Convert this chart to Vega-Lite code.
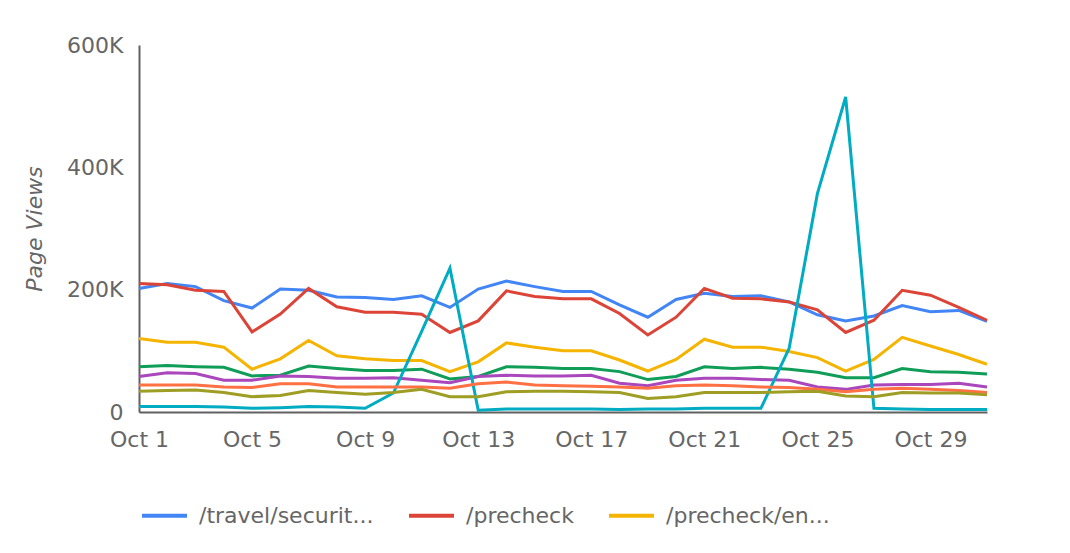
{
  "$schema": "https://vega.github.io/schema/vega-lite/v6.json",
  "width": 848,
  "height": 367,
  "autosize": "none",
  "padding": {"left": 139, "top": 45, "right": 83, "bottom": 141},
  "background": "white",
  "data": {"values": [
    {"date":"2023-10-01","page":"/travel/securit...","views":202000},
    {"date":"2023-10-02","page":"/travel/securit...","views":210000},
    {"date":"2023-10-03","page":"/travel/securit...","views":205000},
    {"date":"2023-10-04","page":"/travel/securit...","views":182000},
    {"date":"2023-10-05","page":"/travel/securit...","views":170000},
    {"date":"2023-10-06","page":"/travel/securit...","views":201000},
    {"date":"2023-10-07","page":"/travel/securit...","views":199000},
    {"date":"2023-10-08","page":"/travel/securit...","views":188000},
    {"date":"2023-10-09","page":"/travel/securit...","views":187000},
    {"date":"2023-10-10","page":"/travel/securit...","views":184000},
    {"date":"2023-10-11","page":"/travel/securit...","views":190000},
    {"date":"2023-10-12","page":"/travel/securit...","views":171000},
    {"date":"2023-10-13","page":"/travel/securit...","views":201000},
    {"date":"2023-10-14","page":"/travel/securit...","views":214000},
    {"date":"2023-10-15","page":"/travel/securit...","views":205000},
    {"date":"2023-10-16","page":"/travel/securit...","views":197000},
    {"date":"2023-10-17","page":"/travel/securit...","views":197000},
    {"date":"2023-10-18","page":"/travel/securit...","views":175000},
    {"date":"2023-10-19","page":"/travel/securit...","views":155000},
    {"date":"2023-10-20","page":"/travel/securit...","views":184000},
    {"date":"2023-10-21","page":"/travel/securit...","views":194000},
    {"date":"2023-10-22","page":"/travel/securit...","views":189000},
    {"date":"2023-10-23","page":"/travel/securit...","views":190000},
    {"date":"2023-10-24","page":"/travel/securit...","views":180000},
    {"date":"2023-10-25","page":"/travel/securit...","views":159000},
    {"date":"2023-10-26","page":"/travel/securit...","views":149000},
    {"date":"2023-10-27","page":"/travel/securit...","views":157000},
    {"date":"2023-10-28","page":"/travel/securit...","views":174000},
    {"date":"2023-10-29","page":"/travel/securit...","views":164000},
    {"date":"2023-10-30","page":"/travel/securit...","views":166000},
    {"date":"2023-10-31","page":"/travel/securit...","views":148000},
    {"date":"2023-10-01","page":"/precheck","views":210000},
    {"date":"2023-10-02","page":"/precheck","views":208000},
    {"date":"2023-10-03","page":"/precheck","views":199000},
    {"date":"2023-10-04","page":"/precheck","views":197000},
    {"date":"2023-10-05","page":"/precheck","views":131000},
    {"date":"2023-10-06","page":"/precheck","views":160000},
    {"date":"2023-10-07","page":"/precheck","views":202000},
    {"date":"2023-10-08","page":"/precheck","views":172000},
    {"date":"2023-10-09","page":"/precheck","views":163000},
    {"date":"2023-10-10","page":"/precheck","views":163000},
    {"date":"2023-10-11","page":"/precheck","views":160000},
    {"date":"2023-10-12","page":"/precheck","views":130000},
    {"date":"2023-10-13","page":"/precheck","views":149000},
    {"date":"2023-10-14","page":"/precheck","views":198000},
    {"date":"2023-10-15","page":"/precheck","views":189000},
    {"date":"2023-10-16","page":"/precheck","views":185000},
    {"date":"2023-10-17","page":"/precheck","views":185000},
    {"date":"2023-10-18","page":"/precheck","views":161000},
    {"date":"2023-10-19","page":"/precheck","views":126000},
    {"date":"2023-10-20","page":"/precheck","views":155000},
    {"date":"2023-10-21","page":"/precheck","views":202000},
    {"date":"2023-10-22","page":"/precheck","views":186000},
    {"date":"2023-10-23","page":"/precheck","views":185000},
    {"date":"2023-10-24","page":"/precheck","views":180000},
    {"date":"2023-10-25","page":"/precheck","views":167000},
    {"date":"2023-10-26","page":"/precheck","views":130000},
    {"date":"2023-10-27","page":"/precheck","views":150000},
    {"date":"2023-10-28","page":"/precheck","views":199000},
    {"date":"2023-10-29","page":"/precheck","views":191000},
    {"date":"2023-10-30","page":"/precheck","views":171000},
    {"date":"2023-10-31","page":"/precheck","views":150000},
    {"date":"2023-10-01","page":"/precheck/en...","views":120000},
    {"date":"2023-10-02","page":"/precheck/en...","views":114000},
    {"date":"2023-10-03","page":"/precheck/en...","views":114000},
    {"date":"2023-10-04","page":"/precheck/en...","views":106000},
    {"date":"2023-10-05","page":"/precheck/en...","views":70000},
    {"date":"2023-10-06","page":"/precheck/en...","views":87000},
    {"date":"2023-10-07","page":"/precheck/en...","views":117000},
    {"date":"2023-10-08","page":"/precheck/en...","views":92000},
    {"date":"2023-10-09","page":"/precheck/en...","views":87000},
    {"date":"2023-10-10","page":"/precheck/en...","views":84000},
    {"date":"2023-10-11","page":"/precheck/en...","views":84000},
    {"date":"2023-10-12","page":"/precheck/en...","views":66000},
    {"date":"2023-10-13","page":"/precheck/en...","views":82000},
    {"date":"2023-10-14","page":"/precheck/en...","views":113000},
    {"date":"2023-10-15","page":"/precheck/en...","views":106000},
    {"date":"2023-10-16","page":"/precheck/en...","views":100000},
    {"date":"2023-10-17","page":"/precheck/en...","views":100000},
    {"date":"2023-10-18","page":"/precheck/en...","views":85000},
    {"date":"2023-10-19","page":"/precheck/en...","views":67000},
    {"date":"2023-10-20","page":"/precheck/en...","views":86000},
    {"date":"2023-10-21","page":"/precheck/en...","views":119000},
    {"date":"2023-10-22","page":"/precheck/en...","views":106000},
    {"date":"2023-10-23","page":"/precheck/en...","views":106000},
    {"date":"2023-10-24","page":"/precheck/en...","views":99000},
    {"date":"2023-10-25","page":"/precheck/en...","views":89000},
    {"date":"2023-10-26","page":"/precheck/en...","views":67000},
    {"date":"2023-10-27","page":"/precheck/en...","views":86000},
    {"date":"2023-10-28","page":"/precheck/en...","views":122000},
    {"date":"2023-10-29","page":"/precheck/en...","views":108000},
    {"date":"2023-10-30","page":"/precheck/en...","views":94000},
    {"date":"2023-10-31","page":"/precheck/en...","views":78000},
    {"date":"2023-10-01","page":"/travel/security-screening/whatcanibring/all","views":74000},
    {"date":"2023-10-02","page":"/travel/security-screening/whatcanibring/all","views":76000},
    {"date":"2023-10-03","page":"/travel/security-screening/whatcanibring/all","views":74000},
    {"date":"2023-10-04","page":"/travel/security-screening/whatcanibring/all","views":73000},
    {"date":"2023-10-05","page":"/travel/security-screening/whatcanibring/all","views":59000},
    {"date":"2023-10-06","page":"/travel/security-screening/whatcanibring/all","views":60000},
    {"date":"2023-10-07","page":"/travel/security-screening/whatcanibring/all","views":75000},
    {"date":"2023-10-08","page":"/travel/security-screening/whatcanibring/all","views":71000},
    {"date":"2023-10-09","page":"/travel/security-screening/whatcanibring/all","views":68000},
    {"date":"2023-10-10","page":"/travel/security-screening/whatcanibring/all","views":68000},
    {"date":"2023-10-11","page":"/travel/security-screening/whatcanibring/all","views":70000},
    {"date":"2023-10-12","page":"/travel/security-screening/whatcanibring/all","views":54000},
    {"date":"2023-10-13","page":"/travel/security-screening/whatcanibring/all","views":58000},
    {"date":"2023-10-14","page":"/travel/security-screening/whatcanibring/all","views":74000},
    {"date":"2023-10-15","page":"/travel/security-screening/whatcanibring/all","views":73000},
    {"date":"2023-10-16","page":"/travel/security-screening/whatcanibring/all","views":71000},
    {"date":"2023-10-17","page":"/travel/security-screening/whatcanibring/all","views":71000},
    {"date":"2023-10-18","page":"/travel/security-screening/whatcanibring/all","views":66000},
    {"date":"2023-10-19","page":"/travel/security-screening/whatcanibring/all","views":53000},
    {"date":"2023-10-20","page":"/travel/security-screening/whatcanibring/all","views":58000},
    {"date":"2023-10-21","page":"/travel/security-screening/whatcanibring/all","views":74000},
    {"date":"2023-10-22","page":"/travel/security-screening/whatcanibring/all","views":71000},
    {"date":"2023-10-23","page":"/travel/security-screening/whatcanibring/all","views":73000},
    {"date":"2023-10-24","page":"/travel/security-screening/whatcanibring/all","views":70000},
    {"date":"2023-10-25","page":"/travel/security-screening/whatcanibring/all","views":65000},
    {"date":"2023-10-26","page":"/travel/security-screening/whatcanibring/all","views":56000},
    {"date":"2023-10-27","page":"/travel/security-screening/whatcanibring/all","views":56000},
    {"date":"2023-10-28","page":"/travel/security-screening/whatcanibring/all","views":71000},
    {"date":"2023-10-29","page":"/travel/security-screening/whatcanibring/all","views":66000},
    {"date":"2023-10-30","page":"/travel/security-screening/whatcanibring/all","views":65000},
    {"date":"2023-10-31","page":"/travel/security-screening/whatcanibring/all","views":62000},
    {"date":"2023-10-01","page":"/travel/passenger-support","views":58000},
    {"date":"2023-10-02","page":"/travel/passenger-support","views":64000},
    {"date":"2023-10-03","page":"/travel/passenger-support","views":63000},
    {"date":"2023-10-04","page":"/travel/passenger-support","views":52000},
    {"date":"2023-10-05","page":"/travel/passenger-support","views":52000},
    {"date":"2023-10-06","page":"/travel/passenger-support","views":59000},
    {"date":"2023-10-07","page":"/travel/passenger-support","views":58000},
    {"date":"2023-10-08","page":"/travel/passenger-support","views":55000},
    {"date":"2023-10-09","page":"/travel/passenger-support","views":55000},
    {"date":"2023-10-10","page":"/travel/passenger-support","views":56000},
    {"date":"2023-10-11","page":"/travel/passenger-support","views":52000},
    {"date":"2023-10-12","page":"/travel/passenger-support","views":48000},
    {"date":"2023-10-13","page":"/travel/passenger-support","views":58000},
    {"date":"2023-10-14","page":"/travel/passenger-support","views":60000},
    {"date":"2023-10-15","page":"/travel/passenger-support","views":59000},
    {"date":"2023-10-16","page":"/travel/passenger-support","views":59000},
    {"date":"2023-10-17","page":"/travel/passenger-support","views":60000},
    {"date":"2023-10-18","page":"/travel/passenger-support","views":47000},
    {"date":"2023-10-19","page":"/travel/passenger-support","views":43000},
    {"date":"2023-10-20","page":"/travel/passenger-support","views":52000},
    {"date":"2023-10-21","page":"/travel/passenger-support","views":55000},
    {"date":"2023-10-22","page":"/travel/passenger-support","views":55000},
    {"date":"2023-10-23","page":"/travel/passenger-support","views":53000},
    {"date":"2023-10-24","page":"/travel/passenger-support","views":52000},
    {"date":"2023-10-25","page":"/travel/passenger-support","views":41000},
    {"date":"2023-10-26","page":"/travel/passenger-support","views":37000},
    {"date":"2023-10-27","page":"/travel/passenger-support","views":44000},
    {"date":"2023-10-28","page":"/travel/passenger-support","views":45000},
    {"date":"2023-10-29","page":"/travel/passenger-support","views":45000},
    {"date":"2023-10-30","page":"/travel/passenger-support","views":47000},
    {"date":"2023-10-31","page":"/travel/passenger-support","views":41000},
    {"date":"2023-10-01","page":"/travel/tsa-cares","views":9000},
    {"date":"2023-10-02","page":"/travel/tsa-cares","views":9000},
    {"date":"2023-10-03","page":"/travel/tsa-cares","views":9000},
    {"date":"2023-10-04","page":"/travel/tsa-cares","views":8000},
    {"date":"2023-10-05","page":"/travel/tsa-cares","views":6000},
    {"date":"2023-10-06","page":"/travel/tsa-cares","views":7000},
    {"date":"2023-10-07","page":"/travel/tsa-cares","views":9000},
    {"date":"2023-10-08","page":"/travel/tsa-cares","views":8000},
    {"date":"2023-10-09","page":"/travel/tsa-cares","views":6000},
    {"date":"2023-10-10","page":"/travel/tsa-cares","views":31000},
    {"date":"2023-10-11","page":"/travel/tsa-cares","views":132000},
    {"date":"2023-10-12","page":"/travel/tsa-cares","views":235000},
    {"date":"2023-10-13","page":"/travel/tsa-cares","views":3000},
    {"date":"2023-10-14","page":"/travel/tsa-cares","views":5000},
    {"date":"2023-10-15","page":"/travel/tsa-cares","views":5000},
    {"date":"2023-10-16","page":"/travel/tsa-cares","views":5000},
    {"date":"2023-10-17","page":"/travel/tsa-cares","views":5000},
    {"date":"2023-10-18","page":"/travel/tsa-cares","views":4000},
    {"date":"2023-10-19","page":"/travel/tsa-cares","views":5000},
    {"date":"2023-10-20","page":"/travel/tsa-cares","views":5000},
    {"date":"2023-10-21","page":"/travel/tsa-cares","views":6000},
    {"date":"2023-10-22","page":"/travel/tsa-cares","views":6000},
    {"date":"2023-10-23","page":"/travel/tsa-cares","views":6000},
    {"date":"2023-10-24","page":"/travel/tsa-cares","views":104000},
    {"date":"2023-10-25","page":"/travel/tsa-cares","views":357000},
    {"date":"2023-10-26","page":"/travel/tsa-cares","views":515000},
    {"date":"2023-10-27","page":"/travel/tsa-cares","views":6000},
    {"date":"2023-10-28","page":"/travel/tsa-cares","views":5000},
    {"date":"2023-10-29","page":"/travel/tsa-cares","views":4000},
    {"date":"2023-10-30","page":"/travel/tsa-cares","views":4000},
    {"date":"2023-10-31","page":"/travel/tsa-cares","views":4000},
    {"date":"2023-10-01","page":"/contact-center","views":44000},
    {"date":"2023-10-02","page":"/contact-center","views":44000},
    {"date":"2023-10-03","page":"/contact-center","views":44000},
    {"date":"2023-10-04","page":"/contact-center","views":41000},
    {"date":"2023-10-05","page":"/contact-center","views":40000},
    {"date":"2023-10-06","page":"/contact-center","views":46000},
    {"date":"2023-10-07","page":"/contact-center","views":46000},
    {"date":"2023-10-08","page":"/contact-center","views":41000},
    {"date":"2023-10-09","page":"/contact-center","views":41000},
    {"date":"2023-10-10","page":"/contact-center","views":41000},
    {"date":"2023-10-11","page":"/contact-center","views":41000},
    {"date":"2023-10-12","page":"/contact-center","views":39000},
    {"date":"2023-10-13","page":"/contact-center","views":46000},
    {"date":"2023-10-14","page":"/contact-center","views":49000},
    {"date":"2023-10-15","page":"/contact-center","views":44000},
    {"date":"2023-10-16","page":"/contact-center","views":43000},
    {"date":"2023-10-17","page":"/contact-center","views":42000},
    {"date":"2023-10-18","page":"/contact-center","views":41000},
    {"date":"2023-10-19","page":"/contact-center","views":39000},
    {"date":"2023-10-20","page":"/contact-center","views":43000},
    {"date":"2023-10-21","page":"/contact-center","views":44000},
    {"date":"2023-10-22","page":"/contact-center","views":43000},
    {"date":"2023-10-23","page":"/contact-center","views":41000},
    {"date":"2023-10-24","page":"/contact-center","views":40000},
    {"date":"2023-10-25","page":"/contact-center","views":37000},
    {"date":"2023-10-26","page":"/contact-center","views":33000},
    {"date":"2023-10-27","page":"/contact-center","views":37000},
    {"date":"2023-10-28","page":"/contact-center","views":39000},
    {"date":"2023-10-29","page":"/contact-center","views":37000},
    {"date":"2023-10-30","page":"/contact-center","views":35000},
    {"date":"2023-10-31","page":"/contact-center","views":32000},
    {"date":"2023-10-01","page":"/coronavirus","views":34000},
    {"date":"2023-10-02","page":"/coronavirus","views":35000},
    {"date":"2023-10-03","page":"/coronavirus","views":36000},
    {"date":"2023-10-04","page":"/coronavirus","views":32000},
    {"date":"2023-10-05","page":"/coronavirus","views":25000},
    {"date":"2023-10-06","page":"/coronavirus","views":27000},
    {"date":"2023-10-07","page":"/coronavirus","views":35000},
    {"date":"2023-10-08","page":"/coronavirus","views":32000},
    {"date":"2023-10-09","page":"/coronavirus","views":29000},
    {"date":"2023-10-10","page":"/coronavirus","views":32000},
    {"date":"2023-10-11","page":"/coronavirus","views":37000},
    {"date":"2023-10-12","page":"/coronavirus","views":25000},
    {"date":"2023-10-13","page":"/coronavirus","views":25000},
    {"date":"2023-10-14","page":"/coronavirus","views":33000},
    {"date":"2023-10-15","page":"/coronavirus","views":34000},
    {"date":"2023-10-16","page":"/coronavirus","views":34000},
    {"date":"2023-10-17","page":"/coronavirus","views":33000},
    {"date":"2023-10-18","page":"/coronavirus","views":32000},
    {"date":"2023-10-19","page":"/coronavirus","views":22000},
    {"date":"2023-10-20","page":"/coronavirus","views":25000},
    {"date":"2023-10-21","page":"/coronavirus","views":32000},
    {"date":"2023-10-22","page":"/coronavirus","views":32000},
    {"date":"2023-10-23","page":"/coronavirus","views":32000},
    {"date":"2023-10-24","page":"/coronavirus","views":33000},
    {"date":"2023-10-25","page":"/coronavirus","views":34000},
    {"date":"2023-10-26","page":"/coronavirus","views":26000},
    {"date":"2023-10-27","page":"/coronavirus","views":25000},
    {"date":"2023-10-28","page":"/coronavirus","views":32000},
    {"date":"2023-10-29","page":"/coronavirus","views":31000},
    {"date":"2023-10-30","page":"/coronavirus","views":31000},
    {"date":"2023-10-31","page":"/coronavirus","views":28000}
  ]},
  "mark": {"type": "line", "strokeWidth": 3, "strokeJoin": "miter", "strokeCap": "butt"},
  "encoding": {
    "x": {
      "field": "date", "type": "temporal",
      "scale": {"type": "utc", "nice": false,
        "domain": [{"year": 2023, "month": 10, "date": 1, "utc": true}, {"year": 2023, "month": 10, "date": 31, "utc": true}]},
      "axis": {
        "title": null,
        "format": "%b %-d",
        "values": [
          {"year": 2023, "month": 10, "date": 1, "utc": true},
          {"year": 2023, "month": 10, "date": 5, "utc": true},
          {"year": 2023, "month": 10, "date": 9, "utc": true},
          {"year": 2023, "month": 10, "date": 13, "utc": true},
          {"year": 2023, "month": 10, "date": 17, "utc": true},
          {"year": 2023, "month": 10, "date": 21, "utc": true},
          {"year": 2023, "month": 10, "date": 25, "utc": true},
          {"year": 2023, "month": 10, "date": 29, "utc": true}
        ],
        "labelPadding": 17,
        "labelOverlap": false,
        "labelFlush": false
      }
    },
    "y": {
      "field": "views", "type": "quantitative",
      "scale": {"domain": [0, 600000], "nice": false},
      "axis": {
        "title": "Page Views",
        "titleFontStyle": "italic",
        "titleFontWeight": "normal",
        "titleFont": "DejaVu Sans",
        "titleFontSize": 22,
        "titleColor": "#666666",
        "titlePadding": 20,
        "values": [0, 200000, 400000, 600000],
        "labelExpr": "datum.value == 0 ? '0' : (datum.value / 1000) + 'K'",
        "labelPadding": 16
      }
    },
    "color": {
      "field": "page", "type": "nominal",
      "scale": {
        "domain": ["/travel/securit...", "/precheck", "/precheck/en...", "/travel/security-screening/whatcanibring/all", "/travel/passenger-support", "/travel/tsa-cares", "/contact-center", "/coronavirus"],
        "range": ["#4285F4", "#DB4437", "#F4B400", "#0F9D58", "#AB47BC", "#00ACC1", "#FF7043", "#9E9D24"]
      },
      "legend": {
        "title": null,
        "orient": "none",
        "direction": "horizontal",
        "legendX": 1,
        "legendY": 446,
        "values": ["/travel/securit...", "/precheck", "/precheck/en..."],
        "symbolType": "stroke",
        "symbolSize": 2025,
        "symbolStrokeWidth": 4,
        "labelOffset": 10,
        "columnPadding": 27,
        "labelFont": "DejaVu Sans",
        "labelFontSize": 22,
        "labelColor": "#666666",
        "labelLimit": 400
      }
    }
  },
  "config": {
    "view": {"stroke": null},
    "axis": {
      "grid": false,
      "ticks": false,
      "domainColor": "#616161",
      "domainWidth": 2,
      "labelFont": "DejaVu Sans",
      "labelFontSize": 22,
      "labelColor": "#666666"
    }
  }
}
